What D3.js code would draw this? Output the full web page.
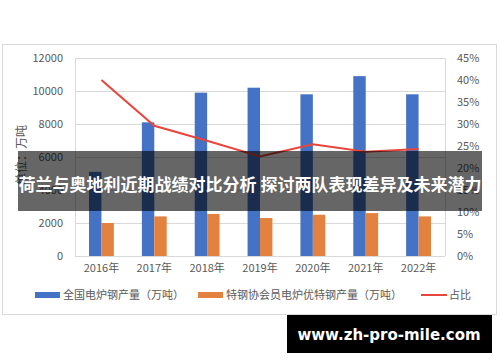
<!DOCTYPE html>
<html><head><meta charset="utf-8">
<script src="https://cdn.jsdelivr.net/npm/d3@7/dist/d3.min.js"></script>
<style>body{margin:0;background:#fff}svg{display:block}</style>
</head><body><svg id="c" width="500" height="362"></svg>
<script>
const years = ["2016年","2017年","2018年","2019年","2020年","2021年","2022年"];
const totalEAF = [5100, 8100, 9900, 10200, 9800, 10900, 9800];
const specialEAF = [2000, 2400, 2550, 2300, 2500, 2600, 2400];
const share = [0.40, 0.296, 0.262, 0.226, 0.254, 0.237, 0.243];
const leftTicks = [0, 2000, 4000, 6000, 8000, 10000, 12000];
const rightTicks = [0, 0.05, 0.10, 0.15, 0.20, 0.25, 0.30, 0.35, 0.40, 0.45];
const seriesNames = ["全国电炉钢产量（万吨）", "特钢协会员电炉优特钢产量（万吨）", "占比"];
const yTitle = "单位：万吨";
const bannerText = "荷兰与奥地利近期战绩对比分析 探讨两队表现差异及未来潜力";
const watermark = "www.zh-pro-mile.com";

const svg = d3.select("#c");
const font = "'Noto Sans CJK SC','Microsoft YaHei',sans-serif";
const gray = "#595959", grid = "#D9D9D9";
const cBlue = "#4472C4", cOrange = "#E2823E", cRed = "#E8453C";
const L = 75, R = 445, T = 58, B = 256;

svg.append("rect").attr("x",2.5).attr("y",44.5).attr("width",494).attr("height",270)
  .attr("fill","#fff").attr("stroke",grid);

const x0 = d3.scaleBand().domain(years).range([L,R]).paddingInner(0.53).paddingOuter(0.265);
const x1 = d3.scaleBand().domain([0,1]).range([0,x0.bandwidth()]);
const yL = d3.scaleLinear().domain([0,12000]).range([B,T]);
const yR = d3.scaleLinear().domain([0,0.45]).range([B,T]);

// grid
svg.append("g").selectAll("line").data(leftTicks).join("line")
  .attr("x1",L).attr("x2",R).attr("y1",d=>Math.round(yL(d))+0.5).attr("y2",d=>Math.round(yL(d))+0.5)
  .attr("stroke",grid);
svg.append("line").attr("x1",L+0.5).attr("x2",L+0.5).attr("y1",T).attr("y2",B).attr("stroke",grid);
svg.append("line").attr("x1",R+0.5).attr("x2",R+0.5).attr("y1",T).attr("y2",B).attr("stroke",grid);

// axes
const axL = svg.append("g").attr("transform",`translate(${L-12},0)`)
  .call(d3.axisLeft(yL).tickValues(leftTicks).tickSize(0).tickPadding(0).tickFormat(d3.format("d")));
const axR = svg.append("g").attr("transform",`translate(${R+12},0)`)
  .call(d3.axisRight(yR).tickValues(rightTicks).tickSize(0).tickPadding(0).tickFormat(d3.format(".0%")));
const axB = svg.append("g").attr("transform",`translate(0,${B+8})`)
  .call(d3.axisBottom(x0).tickSize(0).tickPadding(0));
[axL,axR,axB].forEach(a=>{
  a.select(".domain").remove();
  a.selectAll("text").attr("fill",gray).style("font-family",font).style("font-size","11px");
});

// bars
const g = svg.append("g");
g.selectAll("rect.b").data(totalEAF).join("rect").attr("class","b")
  .attr("x",(d,i)=>x0(years[i])+x1(0)).attr("width",x1.bandwidth())
  .attr("y",d=>yL(d)).attr("height",d=>B-yL(d)).attr("fill",cBlue);
g.selectAll("rect.o").data(specialEAF).join("rect").attr("class","o")
  .attr("x",(d,i)=>x0(years[i])+x1(1)).attr("width",x1.bandwidth())
  .attr("y",d=>yL(d)).attr("height",d=>B-yL(d)).attr("fill",cOrange);

// line
const line = d3.line().x((d,i)=>x0(years[i])+x0.bandwidth()/2).y(d=>yR(d));
svg.append("path").datum(share).attr("d",line).attr("fill","none")
  .attr("stroke",cRed).attr("stroke-width",2);

// y title
svg.append("text").attr("transform","translate(26,155) rotate(-90)")
  .attr("text-anchor","middle").attr("fill",gray).style("font-family",font).style("font-size","12px")
  .text(yTitle);

// legend
const lg = svg.append("g");
const lgItems = [{x:35,c:cBlue,t:"rect"},{x:198,c:cOrange,t:"rect"},{x:421,c:cRed,t:"line"}];
lgItems.forEach((it,i)=>{
  if(it.t==="rect") lg.append("rect").attr("x",it.x).attr("y",292).attr("width",25).attr("height",6).attr("fill",it.c);
  else lg.append("line").attr("x1",it.x).attr("x2",it.x+26).attr("y1",295).attr("y2",295).attr("stroke",it.c).attr("stroke-width",2);
  lg.append("text").attr("x",it.x+28).attr("y",299).attr("fill",gray)
    .style("font-family",font).style("font-size","11px").text(seriesNames[i]);
});

// banner overlay
svg.append("rect").attr("x",18).attr("y",151).attr("width",464).attr("height",60).attr("fill","rgba(0,0,0,0.6)");
svg.append("text").attr("x",250).attr("y",191).attr("text-anchor","middle").attr("fill","#fff")
  .style("font-family",font).style("font-size","17px").style("font-weight","bold").text(bannerText);

// watermark
svg.append("rect").attr("x",287).attr("y",315).attr("width",205).attr("height",38).attr("fill","#000");
svg.append("text").attr("x",389).attr("y",340).attr("text-anchor","middle").attr("fill","#fff")
  .style("font-family","'DejaVu Sans',sans-serif").style("font-size","15px").style("font-weight","bold").text(watermark);
</script></body></html>
